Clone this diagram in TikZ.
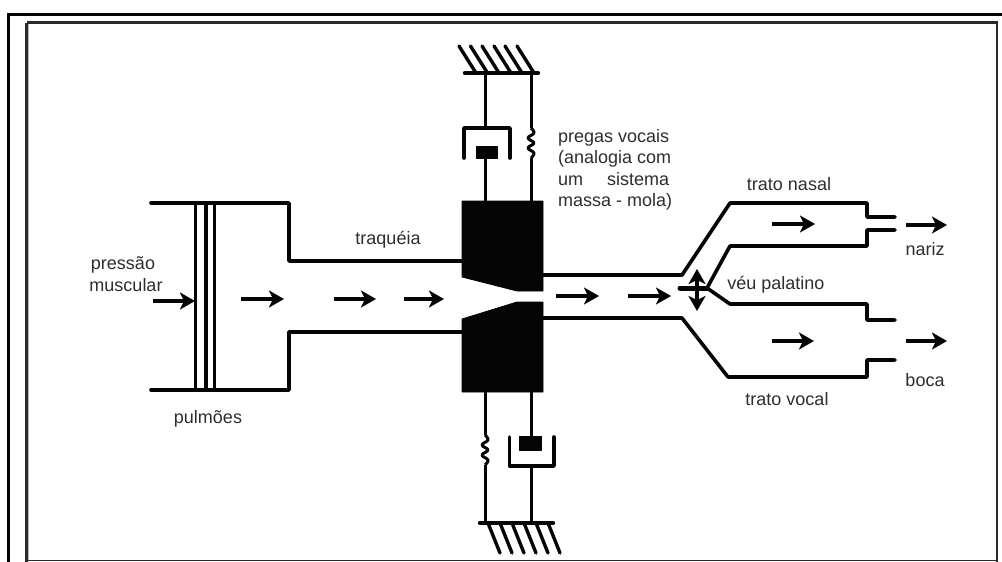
\documentclass[tikz,border=0pt]{standalone}
\usepackage{fontspec}
\setmainfont{Liberation Sans}
\usepackage{xcolor}
\usetikzlibrary{arrows.meta}
\definecolor{ink}{HTML}{050505}
\definecolor{frameg}{HTML}{2A2A2A}
\definecolor{lettering}{HTML}{2E2E2E}
\tikzset{
  outerframe/.style={draw=ink, line width=3pt},
  innerframe/.style={draw=frameg, line width=2.8pt},
  wall/.style={draw=ink, line width=3.6pt, line cap=round, line join=round},
  rod/.style={draw=ink, line width=3pt},
  hatch/.style={draw=ink, line width=3.4pt, line cap=round},
  solid block/.style={fill=ink, draw=ink, line width=0.8pt, line join=round},
  flowtip/.tip={Stealth[length=15pt, width=17pt, inset=4pt]},
  flow/.style={draw=ink, line width=3.4pt, -flowtip},
  lab/.style={text=lettering, font=\fontsize{18}{21.5}\selectfont, inner sep=0pt}
}
\newcommand{\SpringCoil}[2]{%
  % #1 = x of the rod, #2 = y where the coil starts
  \draw[rod, line join=round] plot[smooth, tension=0.7] coordinates {(#1,#2) (#1+3,#2+5) (#1-3,#2+10) (#1+3,#2+15) (#1-3,#2+20) (#1+3,#2+25) (#1,#2+30)};
}
\begin{document}
\begin{tikzpicture}[x=1pt, y=-1pt]
  \useasboundingbox (0,0) rectangle (1002,562);
  \fill[white] (0,0) rectangle (1002,562);
  % frames
  \draw[outerframe] (1002,14.5) -- (8.5,14.5) -- (8.5,562);
  \draw[black!28, line width=1.4pt] (28.6,24) -- (28.6,560);
  \draw[innerframe] (26.5,22.5) -- (997,22.5) -- (997,562);
  \draw[innerframe] (26.5,22.5) -- (26.5,562);
  \draw[frameg, line width=1.2pt] (26.5,560.8) -- (997,560.8);
  % lungs and trachea
  \draw[wall] (151,203) -- (289,203) -- (289,261) -- (462,261);
  \draw[wall] (151,390) -- (289,390) -- (289,332) -- (462,332);
  \foreach \px/\pw in {195/3, 206/4, 214/3}
    \draw[draw=ink, line width=\pw pt] (\px,203) -- (\px,390);
  % vocal fold masses
  \fill[solid block] (462,201) -- (543,201) -- (543,291) -- (517,291) -- (462,277) -- cycle;
  \fill[solid block] (462,392) -- (543,392) -- (543,302) -- (517,302) -- (462,319) -- cycle;
  % upper support
  \draw[wall, line width=4.4pt] (465,73) -- (538,73);
  \foreach \hx in {459,470.5,482,494,505,517}
    \draw[hatch] (\hx,46) -- (\hx+17,73);
  \draw[rod] (485,73) -- (485,128);
  \draw[wall] (464,158) -- (464,128) -- (510,128) -- (510,158);
  \fill[solid block] (476.5,146.5) rectangle (497.5,158.5);
  \draw[rod] (485,158) -- (485,201);
  \draw[rod] (531,73) -- (531,128);
  \SpringCoil{531}{128}
  \draw[rod] (531,158) -- (531,201);
  % lower support
  \draw[rod] (485,392) -- (485,435);
  \SpringCoil{485}{435}
  \draw[rod] (485,465) -- (485,523);
  \draw[rod] (531,392) -- (531,436);
  \fill[solid block] (519.5,436) rectangle (541.5,450);
  \draw[wall] (509.5,437) -- (509.5,466) -- (554,466) -- (554,437);
  \draw[rod] (531,466) -- (531,523);
  \draw[wall, line width=4.4pt] (480,523) -- (553,523);
  \foreach \hx in {488,500,512,524,536,548}
    \draw[hatch] (\hx,523) -- (\hx+12,553);
  % tract walls
  \draw[wall] (543,275) -- (682,275) -- (730,203) -- (867,203) -- (867,217) -- (895,217);
  \draw[wall] (707,288) -- (730,246) -- (867,246) -- (867,230) -- (895,230);
  \draw[wall] (707,288) -- (730,304) -- (867,304) -- (867,320) -- (895,320);
  \draw[wall, line width=5pt] (680,288) -- (707,288);
  \draw[wall] (543,318) -- (682,318) -- (728,377) -- (867,377) -- (867,360) -- (895,360);
  % velum
  \draw[flow, flowtip-flowtip] (697,269) -- (697,311);
  % flow arrows
  \foreach \ax/\bx/\ay in {153/195/301, 241/284/299, 334/376/299, 404/444/299, 556/599/296, 628/671/296, 772/815/224, 906/947/225, 772/814/341, 906/947/341}
    \draw[flow] (\ax,\ay) -- (\bx,\ay);
  % labels
  \node[lab] (pressao) at (123,265) {pressão};
  \node[lab] (muscular) at (126,285) {muscular};
  \node[lab] (pulmoes) at (208,419) {pulmões};
  \node[lab] (traqueia) at (388,240) {traquéia};
  \node[lab, anchor=north west, align=left] (pregas) at (558,129) {pregas vocais\\(analogia com\\\hbox to 111pt{um\hfill sistema}\\massa - mola)};
  \node[lab] (nasal) at (789,184) {trato nasal};
  \node[lab] (nariz) at (925,249) {nariz};
  \node[lab] (palatino) at (776,285) {véu palatino};
  \node[lab] (boca) at (925,380) {boca};
  \node[lab] (vocal) at (787,399) {trato vocal};
\end{tikzpicture}
\end{document}
